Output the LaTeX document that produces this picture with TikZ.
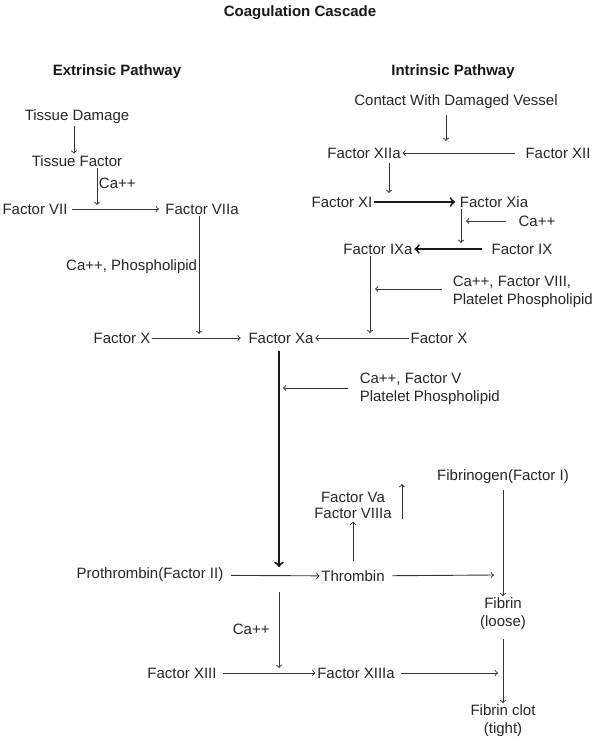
\documentclass[tikz,border=0pt]{standalone}
\usepackage{fontspec}
\setmainfont{Liberation Sans}
\usetikzlibrary{arrows,calc}

\begin{document}
\begin{tikzpicture}[
                    x=0.667pt, y=-0.667pt,
                    lbl/.style={inner sep=1pt, text=black!85, font=\fontsize{10}{12}\selectfont},
                    head/.style={inner sep=1pt, text=black!90, font=\bfseries\fontsize{10}{12}\selectfont},
                    arr/.style={->, black!80, line width=0.6pt},
                    tarr/.style={->, black!90, line width=1.3pt}
                ]
                    \useasboundingbox (0,0) rectangle (604,740);

                    % Headings
                    \node[head] (title) at (300,13) {Coagulation Cascade};
                    \node[head] (ext) at (117,72) {Extrinsic Pathway};
                    \node[head] (int) at (453,72) {Intrinsic Pathway};

                    % Extrinsic nodes
                    \node[lbl] (td) at (77,117) {Tissue Damage};
                    \node[lbl] (tf) at (77,161) {Tissue Factor};
                    \node[lbl] (f7) at (35,209) {Factor VII};
                    \node[lbl] (f7a) at (202,209) {Factor VIIa};
                    \node[lbl] (f10l) at (122,338) {Factor X};
                    \node[lbl] (f10a) at (281,338) {Factor Xa};

                    % Intrinsic nodes
                    \node[lbl] (contact) at (456,102) {Contact With Damaged Vessel};
                    \node[lbl] (f12a) at (364,153) {Factor XIIa};
                    \node[lbl] (f12) at (558,153) {Factor XII};
                    \node[lbl] (f11) at (342,202) {Factor XI};
                    \node[lbl] (f11a) at (494,202) {Factor Xia};
                    \node[lbl] (ca2) at (537,221) {Ca++};
                    \node[lbl] (f9a) at (378,249) {Factor IXa};
                    \node[lbl] (f9) at (522,249) {Factor IX};
                    \node[lbl, anchor=west, align=left] (c8) at (451,292) {Ca++, Factor VIII,\\Platelet Phospholipid};
                    \node[lbl] (f10r) at (439,338) {Factor X};

                    % Common pathway nodes
                    \node[lbl, anchor=west, align=left] (c5) at (358,389) {Ca++, Factor V\\Platelet Phospholipid};
                    \node[lbl] (fbg) at (503,477) {Fibrinogen(Factor I)};
                    \node[lbl, align=center, font=\fontsize{10}{10.7}\selectfont] (f5a) at (353,505) {Factor Va\\Factor VIIIa};
                    \node[lbl] (f2) at (150,575) {Prothrombin(Factor II)};
                    \node[lbl] (thr) at (353,576) {Thrombin};
                    \node[lbl, align=center] (fib) at (503,614) {Fibrin\\(loose)};
                    \node[lbl] (f13) at (182,673) {Factor XIII};
                    \node[lbl] (f13a) at (356,673) {Factor XIIIa};
                    \node[lbl, align=center] (clot) at (503,721) {Fibrin clot\\(tight)};

                    % Junction points on arrows
                    \coordinate (j1) at (97,205);
                    \coordinate (j2) at (199,334);
                    \coordinate (j3) at (446,141);
                    \coordinate (j4) at (389,193);
                    \coordinate (j5) at (461,243);
                    \coordinate (j6) at (466,221);
                    \coordinate (j7) at (370,333);
                    \coordinate (j8) at (375,289);
                    \coordinate (j9) at (279,567);
                    \coordinate (j10) at (283,388);
                    \coordinate (j11) at (494,575);
                    \coordinate (j12) at (279,592);
                    \coordinate (j13) at (279,668);
                    \coordinate (j14) at (498,673);
                    \coordinate (u1) at (402,519);
                    \coordinate (u2) at (402,484);

                    % Extrinsic pathway
                    \draw[arr] ([xshift=-2pt]td.south) -- ([xshift=-2pt]tf.north);
                    \draw[arr] (tf.south -| j1) -- node[lbl, right, pos=0.42] (ca1) {Ca++} (j1);
                    \draw[arr, shorten <=2pt, shorten >=3pt] (f7) -- (f7a);
                    \draw[arr] (f7a.south -| j2) -- node[lbl, left, pos=0.43] (cp) {Ca++, Phospholipid} (j2);
                    \draw[arr, shorten >=4pt] (f10l) -- (f10a);

                    % Intrinsic pathway
                    \draw[arr, shorten <=3pt] (contact.south -| j3) -- (j3);
                    \draw[arr, shorten <=6pt] (f12) -- (f12a);
                    \draw[arr, shorten <=2pt] (f12a.south -| j4) -- (j4);
                    \draw[tarr, shorten >=2pt] (f11) -- (f11a);
                    \draw[arr] (f11a.south -| j5) -- (j5);
                    \draw[arr, shorten <=7pt] (ca2.west) -- (j6);
                    \draw[tarr, shorten <=5pt] (f9) -- (f9a);
                    \draw[arr] (f9a.south -| j7) -- (j7);
                    \draw[arr] ([xshift=-6pt]c8.west |- j8) -- (j8);
                    \draw[arr] (f10r) -- (f10a);

                    % Common pathway
                    \draw[tarr, shorten <=4pt] (f10a.south -| j9) -- (j9);
                    \draw[arr] ([xshift=-7pt]c5.west |- j10) -- (j10);
                    \draw[arr, shorten <=4pt] (f2) -- (thr);
                    \draw[arr, shorten <=5pt, shorten >=1pt] (thr.north -| f5a) -- (f5a);
                    \draw[arr] (u1) -- (u2);
                    \draw[arr, shorten <=4pt] (thr) -- (j11);
                    \draw[arr, shorten <=3pt] (fbg.south -| fib.north) -- (fib);
                    \draw[arr] (j12) -- node[lbl, left=5pt, pos=0.49] (ca3) {Ca++} (j13);
                    \draw[arr, shorten <=3pt] (f13) -- (f13a);
                    \draw[arr, shorten <=3pt] (f13a) -- (j14);
                    \draw[arr, shorten <=5pt] (fib) -- (clot);
                \end{tikzpicture}
\end{document}
